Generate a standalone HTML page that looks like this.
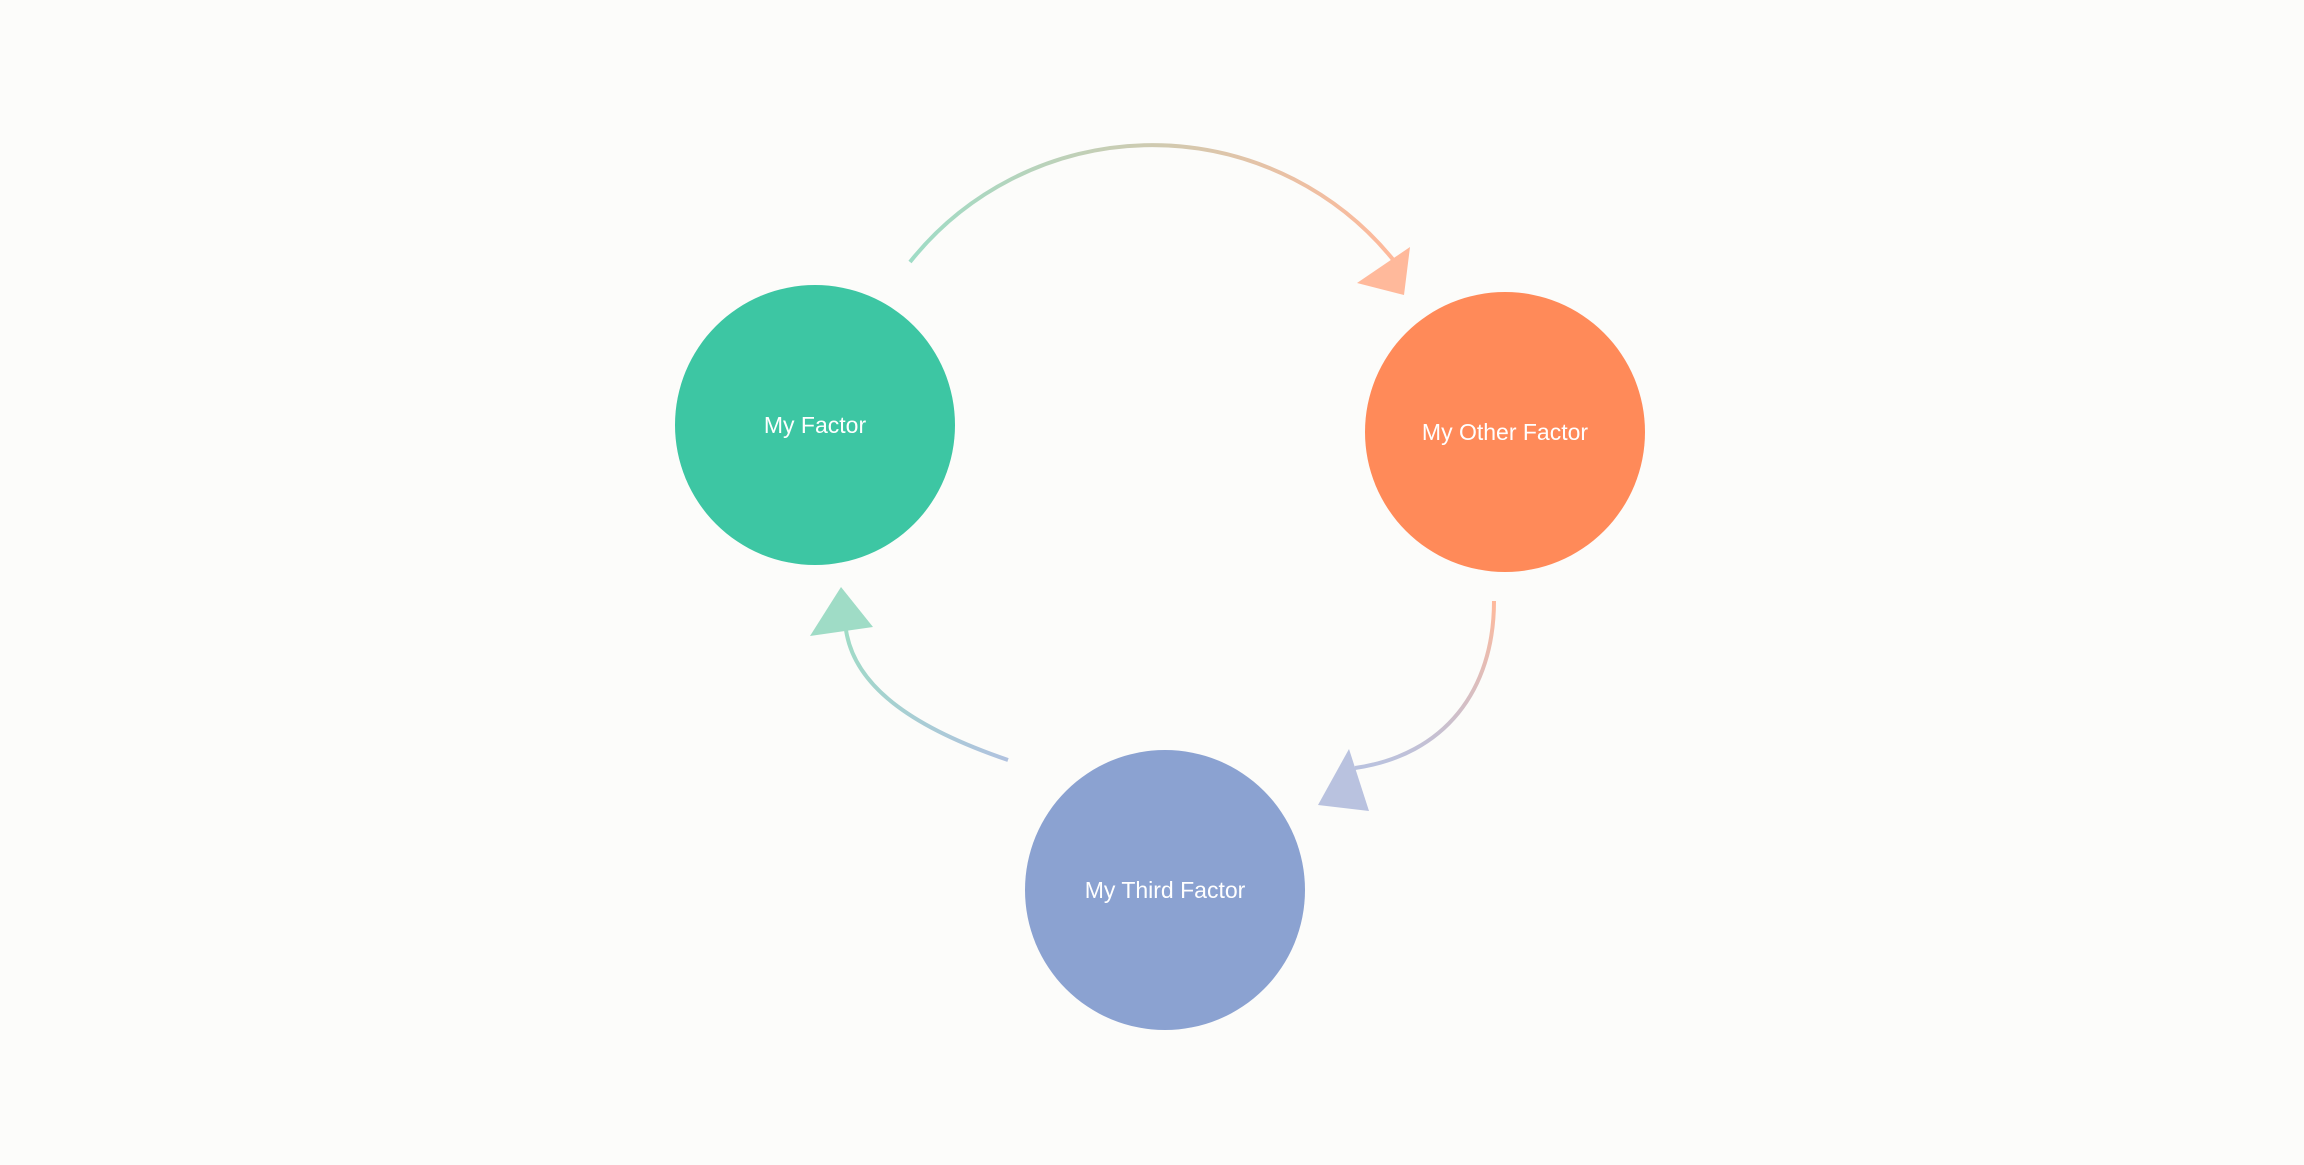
<!DOCTYPE html>
<html><head><style>
body{margin:0;background:#fcfcfa;}
svg{display:block}
text{font-family:"Liberation Sans",sans-serif;font-size:23px;fill:#fff;text-anchor:middle}
</style></head><body>
<svg width="2304" height="1165" viewBox="0 0 2304 1165">
<defs>
<linearGradient id="g1" x1="0" x2="1"><stop offset="0" stop-color="#9fdcc6"/><stop offset="1" stop-color="#ffb99b"/></linearGradient>
<linearGradient id="g2" x1="0" y1="0" x2="0" y2="1"><stop offset="0" stop-color="#ffb99b"/><stop offset="1" stop-color="#b9c2df"/></linearGradient>
<linearGradient id="g3" x1="1" y1="1" x2="0" y2="0"><stop offset="0" stop-color="#b0c2df"/><stop offset="1" stop-color="#9fdcc6"/></linearGradient>
</defs>
<rect width="2304" height="1165" fill="#fcfcfa"/>
<path d="M910 262 A310 310 0 0 1 1395 262" fill="none" stroke="url(#g1)" stroke-width="4"/>
<polygon points="1410,247 1357,283 1404,295" fill="#ffb99b"/>
<path d="M1494 601 C1494 690 1445 755 1355 768" fill="none" stroke="url(#g2)" stroke-width="4"/>
<polygon points="1349,749 1318,805 1369,811" fill="#b9c2df"/>
<path d="M1008 760 C920 730 855 690 846 630" fill="none" stroke="url(#g3)" stroke-width="4"/>
<polygon points="841,587 810,636 873,627" fill="#9fdcc6"/>
<circle cx="815" cy="425" r="140" fill="#3dc6a3"/>
<circle cx="1505" cy="432" r="140" fill="#ff8a59"/>
<circle cx="1165" cy="890" r="140" fill="#8ba2d1"/>
<text x="815" y="433">My Factor</text>
<text x="1505" y="440">My Other Factor</text>
<text x="1165" y="898">My Third Factor</text>
</svg>
</body></html>
